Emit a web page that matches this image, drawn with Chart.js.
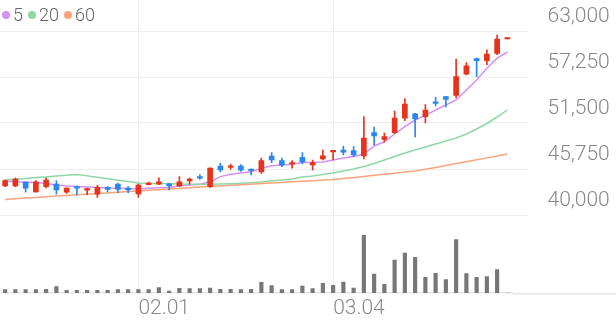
<!DOCTYPE html>
<html>
<head>
<meta charset="utf-8">
<script src="https://cdn.jsdelivr.net/npm/chart.js@4.4.1/dist/chart.umd.min.js"></script>
<style>
body { margin: 0; background: #fff; }
#wrap { position: relative; width: 616px; height: 321px; }
#legend { position: absolute; left: 2px; top: 4px; font-family: Roboto, sans-serif; font-size: 18px; font-weight: 300; color: #666; display: flex; align-items: center; }
#legend .dot { width: 8px; height: 8px; border-radius: 50%; display: inline-block; margin-right: 3px; }
#legend .item { display: flex; align-items: center; margin-right: 5px; }
</style>
</head>
<body>
<div id="wrap">
  <canvas id="candles"></canvas>
  <div id="legend">
    <div class="item"><span class="dot" style="background:#d590f0"></span>5</div>
    <div class="item"><span class="dot" style="background:#8fd8a4"></span>20</div>
    <div class="item"><span class="dot" style="background:#f7a47c"></span>60</div>
  </div>
</div>
<script>
var dates = ["01.15","01.16","01.17","01.18","01.19","01.22","01.23","01.24","01.25","01.26","01.29","01.30","01.31",
	"02.01","02.02","02.05","02.06","02.07","02.08","02.13","02.14","02.15","02.16","02.19","02.20","02.21","02.22","02.23","02.26","02.27","02.28","02.29",
	"03.04","03.05","03.06","03.07","03.08","03.11","03.12","03.13","03.14","03.15","03.18","03.19","03.20","03.21","03.22","03.25","03.26","03.27"];

var opens  = [43650,43650,44100,42900,43550,43875,42850,43550,43100,42600, 43450,43850,43350,42650,43800,43850,43900,43650,44250,44800,
	43550,46100,45950,46100,45700,45400,47375,46800,46375,47200, 46250,47000,47900,48125,48050,47375,50300,49450,50300,52100,
	52650,52300,54125,54800,54950,57600,59550,59300,60200,62000];
var highs  = [44400,44600,44150,44300,44600,44300,43400,43600,43350,43700, 43550,43950,43550,43850,44100,44650,43950,44800,44600,45050,
	45900,46450,46350,46300,45750,47100,47800,47100,46800,47800, 46875,48125,48000,48625,48550,52300,51000,50250,53000,54550,
	52700,53800,54700,54800,59500,59050,59600,60650,62500,62000];
var lows   = [43550,43550,42850,42850,43400,42600,42700,42500,42550,42200, 42900,42800,42800,42200,43750,43800,43150,43550,43850,44450,
	43450,45400,45700,45450,45000,45200,46550,46050,45850,46375, 45625,46875,46900,47500,47300,47000,48750,49150,50200,51800,
	49750,51500,53625,53500,54625,57500,57300,58800,60050,62000];
var closes = [44300,44500,43350,44150,44375,43125,43350,43350,43250,43450, 43200,43200,43150,43750,44000,44150,43650,44150,44500,44600,
	45875,45650,46100,45600,45550,46800,46875,46250,46550,46625, 46550,47400,48000,47850,47500,49625,49875,49800,52100,53850,
	52000,53125,53950,54450,57300,58650,59300,60100,62000,62000];

// thousand shares
var volumes = [66,66,66,66,74,126,54,54,54,54, 54,66,66,66,66,106,40,94,86,86,
	100,74,74,66,74,214,146,66,66,140, 86,194,154,220,100,1154,380,174,660,800,
	714,314,394,266,1066,386,314,326,466,0];

var ma5  = [44250,44150,44100,44050,43950,43750,43625,43550,43500,43450, 43375,43350,43300,43250,43350,43400,43450,43625,43750,43850,
	44150,44800,45100,45250,45400,45850,46150,46250,46350,46550, 46550,46625,46875,47125,47300,47625,48625,49150,50125,51050,
	51875,52450,53125,53750,54375,55625,56875,58350,59600,60375];
var ma20 = [44375,44475,44575,44675,44760,44860,44960,45060,44890,44710, 44525,44350,44175,44000,43960,43940,43910,43875,43850,43840,
	43840,43875,43910,43960,44040,44125,44250,44375,44500,44750, 44875,45060,45250,45500,45750,46060,46440,46875,47310,47750,
	48125,48500,48875,49250,49625,50125,50750,51440,52250,53125];
var ma60 = [41950,42040,42125,42200,42290,42360,42440,42525,42600,42690, 42760,42840,42925,43000,43090,43160,43240,43325,43400,43490,
	43560,43640,43710,43775,43850,43925,44000,44075,44150,44210, 44290,44360,44440,44560,44690,44825,44960,45090,45225,45360,
	45500,45725,45950,46190,46425,46660,46900,47140,47375,47625];

var priceTicks = [40000,45750,51500,57250,63000];

var colors = {
	up: '#e6331c',
	down: '#2a86f0',
	volume: '#777777',
	ma5: '#d590f0',
	ma20: '#8fd8a4',
	ma60: '#f7a47c',
	grid: '#eeeeee',
	text: '#888888'
};

var wicks = [], bodies = [], candleColors = [];
for (var i = 0; i < dates.length; i++) {
	wicks.push([lows[i], highs[i]]);
	bodies.push([opens[i], closes[i]]);
	candleColors.push(closes[i] >= opens[i] ? colors.up : colors.down);
}

function lineSet(data, color) {
	return {
		type: 'line',
		data: data,
		yAxisID: 'y',
		borderColor: color,
		borderWidth: 1.5,
		pointRadius: 0,
		tension: 0,
		order: 3
	};
}

// the baseline under the volume bars runs the full width of the canvas
var fullBaseline = {
	id: 'fullBaseline',
	afterDraw: function(chart) {
		var ctx = chart.ctx, a = chart.chartArea;
		ctx.save();
		ctx.strokeStyle = '#e6e6e6';
		ctx.lineWidth = 1.5;
		ctx.beginPath();
		ctx.moveTo(a.right, a.bottom + 0.75);
		ctx.lineTo(chart.width, a.bottom + 0.75);
		ctx.stroke();
		ctx.restore();
	}
};

var tickFont = { family: 'Roboto', size: 21, weight: '300' };

new Chart(document.getElementById('candles'), {
	type: 'bar',
	data: {
		labels: dates,
		datasets: [
			lineSet(ma60, colors.ma60),
			lineSet(ma20, colors.ma20),
			lineSet(ma5, colors.ma5),
			{
				data: wicks,
				yAxisID: 'y',
				backgroundColor: candleColors,
				barThickness: 1,
				grouped: false,
				order: 2
			},
			{
				data: bodies,
				yAxisID: 'y',
				backgroundColor: candleColors,
				barThickness: 5,
				minBarLength: 1.5,
				grouped: false,
				order: 1
			},
			{
				data: volumes,
				yAxisID: 'yv',
				backgroundColor: colors.volume,
				barThickness: 3.5,
				grouped: false,
				order: 4
			}
		]
	},
	plugins: [fullBaseline],
	options: {
		responsive: true,
		maintainAspectRatio: false,
		animation: false,
		layout: { padding: 0 },
		plugins: {
			legend: { display: false },
			tooltip: { enabled: false }
		},
		scales: {
			x: {
				offset: true,
				grid: { offset: false, color: colors.grid, drawTicks: false },
				border: { color: '#e6e6e6', width: 1.5 },
				ticks: {
					autoSkip: false,
					maxRotation: 0,
					align: 'start',
					padding: 3,
					color: colors.text,
					font: tickFont,
					callback: function(value, index) {
						if (index > 0 && dates[index].slice(0, 2) != dates[index - 1].slice(0, 2)) {
							return dates[index];
						}
						return null;
					}
				},
				afterFit: function(scale) {
					scale.height = 28;
					scale.paddingLeft = 0;
					scale.paddingRight = 0;
				}
			},
			y: {
				position: 'right',
				stack: 'chart',
				stackWeight: 215,
				min: 40000,
				max: 66875,
				afterBuildTicks: function(scale) {
					scale.ticks = priceTicks.map(function(v) { return { value: v }; });
				},
				grid: { color: colors.grid, tickLength: 15 },
				border: { display: false },
				ticks: {
					color: colors.text,
					padding: 20,
					labelOffset: -14,
					font: tickFont,
					callback: function(v) { return v.toLocaleString('en-US'); }
				},
				afterFit: function(scale) {
					scale.width = 103.5;
					scale.paddingTop = 0;
					scale.paddingBottom = 0;
				}
			},
			yv: {
				position: 'right',
				stack: 'chart',
				stackWeight: 78,
				min: 0,
				max: 1560,
				grid: { display: false },
				border: { display: false },
				ticks: { display: false },
				afterFit: function(scale) {
					scale.paddingTop = 0;
					scale.paddingBottom = 0;
				}
			}
		}
	}
});
</script>
</body>
</html>
